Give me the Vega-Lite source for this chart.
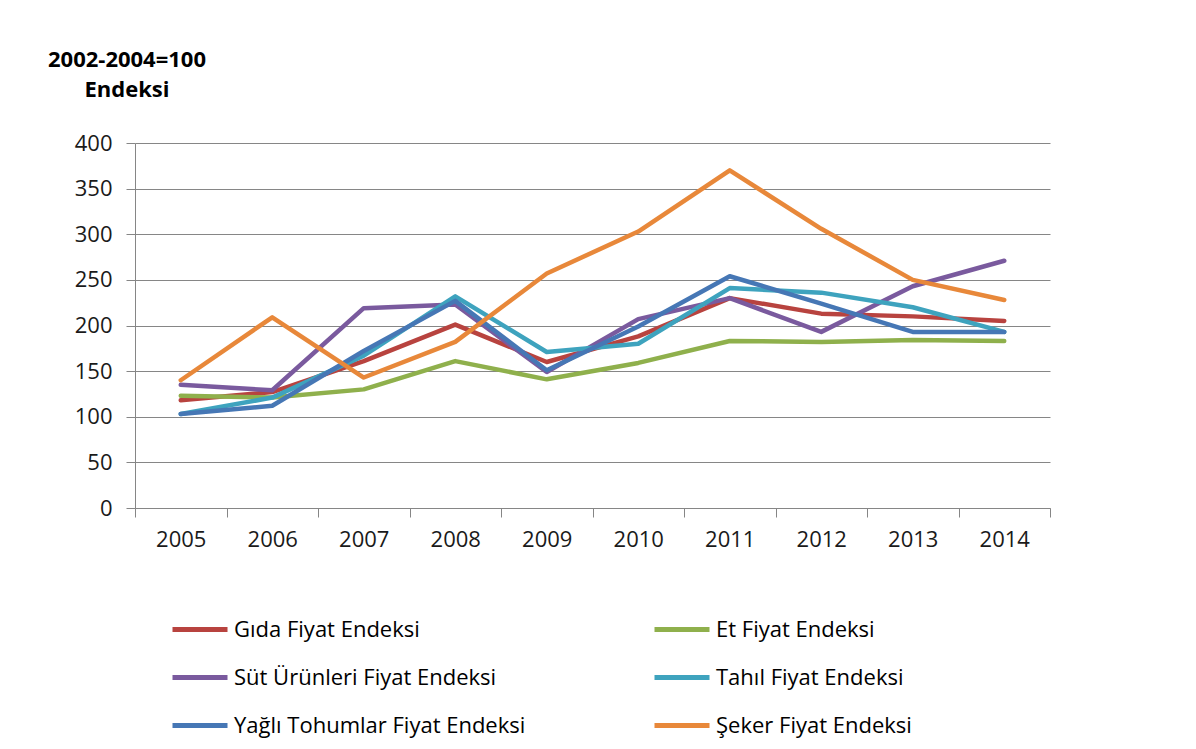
{
  "$schema": "https://vega.github.io/schema/vega-lite/v6.json",
  "width": 915,
  "height": 365,
  "autosize": {"type": "none"},
  "padding": {"left": 135, "top": 143, "right": 146, "bottom": 241},
  "background": "white",
  "title": {
    "text": ["2002-2004=100", "Endeksi"],
    "anchor": "start",
    "align": "center",
    "frame": "group",
    "dx": -8,
    "offset": 13,
    "baseline": "alphabetic",
    "lineHeight": 30,
    "font": "Open Sans",
    "fontSize": 22,
    "fontWeight": "bold",
    "color": "#000000"
  },
  "data": {
    "values": [
      {"year": "2005", "series": "Gıda Fiyat Endeksi", "value": 118},
      {"year": "2006", "series": "Gıda Fiyat Endeksi", "value": 127},
      {"year": "2007", "series": "Gıda Fiyat Endeksi", "value": 161},
      {"year": "2008", "series": "Gıda Fiyat Endeksi", "value": 201},
      {"year": "2009", "series": "Gıda Fiyat Endeksi", "value": 160},
      {"year": "2010", "series": "Gıda Fiyat Endeksi", "value": 188},
      {"year": "2011", "series": "Gıda Fiyat Endeksi", "value": 230},
      {"year": "2012", "series": "Gıda Fiyat Endeksi", "value": 213},
      {"year": "2013", "series": "Gıda Fiyat Endeksi", "value": 210},
      {"year": "2014", "series": "Gıda Fiyat Endeksi", "value": 205},
      {"year": "2005", "series": "Et Fiyat Endeksi", "value": 123},
      {"year": "2006", "series": "Et Fiyat Endeksi", "value": 121},
      {"year": "2007", "series": "Et Fiyat Endeksi", "value": 130},
      {"year": "2008", "series": "Et Fiyat Endeksi", "value": 161},
      {"year": "2009", "series": "Et Fiyat Endeksi", "value": 141},
      {"year": "2010", "series": "Et Fiyat Endeksi", "value": 159},
      {"year": "2011", "series": "Et Fiyat Endeksi", "value": 183},
      {"year": "2012", "series": "Et Fiyat Endeksi", "value": 182},
      {"year": "2013", "series": "Et Fiyat Endeksi", "value": 184},
      {"year": "2014", "series": "Et Fiyat Endeksi", "value": 183},
      {"year": "2005", "series": "Süt Ürünleri Fiyat Endeksi", "value": 135},
      {"year": "2006", "series": "Süt Ürünleri Fiyat Endeksi", "value": 129},
      {"year": "2007", "series": "Süt Ürünleri Fiyat Endeksi", "value": 219},
      {"year": "2008", "series": "Süt Ürünleri Fiyat Endeksi", "value": 223},
      {"year": "2009", "series": "Süt Ürünleri Fiyat Endeksi", "value": 149},
      {"year": "2010", "series": "Süt Ürünleri Fiyat Endeksi", "value": 207},
      {"year": "2011", "series": "Süt Ürünleri Fiyat Endeksi", "value": 230},
      {"year": "2012", "series": "Süt Ürünleri Fiyat Endeksi", "value": 193},
      {"year": "2013", "series": "Süt Ürünleri Fiyat Endeksi", "value": 243},
      {"year": "2014", "series": "Süt Ürünleri Fiyat Endeksi", "value": 271},
      {"year": "2005", "series": "Tahıl Fiyat Endeksi", "value": 103},
      {"year": "2006", "series": "Tahıl Fiyat Endeksi", "value": 121},
      {"year": "2007", "series": "Tahıl Fiyat Endeksi", "value": 167},
      {"year": "2008", "series": "Tahıl Fiyat Endeksi", "value": 232},
      {"year": "2009", "series": "Tahıl Fiyat Endeksi", "value": 171},
      {"year": "2010", "series": "Tahıl Fiyat Endeksi", "value": 180},
      {"year": "2011", "series": "Tahıl Fiyat Endeksi", "value": 241},
      {"year": "2012", "series": "Tahıl Fiyat Endeksi", "value": 236},
      {"year": "2013", "series": "Tahıl Fiyat Endeksi", "value": 220},
      {"year": "2014", "series": "Tahıl Fiyat Endeksi", "value": 193},
      {"year": "2005", "series": "Yağlı Tohumlar Fiyat Endeksi", "value": 103},
      {"year": "2006", "series": "Yağlı Tohumlar Fiyat Endeksi", "value": 112},
      {"year": "2007", "series": "Yağlı Tohumlar Fiyat Endeksi", "value": 172},
      {"year": "2008", "series": "Yağlı Tohumlar Fiyat Endeksi", "value": 227},
      {"year": "2009", "series": "Yağlı Tohumlar Fiyat Endeksi", "value": 151},
      {"year": "2010", "series": "Yağlı Tohumlar Fiyat Endeksi", "value": 199},
      {"year": "2011", "series": "Yağlı Tohumlar Fiyat Endeksi", "value": 254},
      {"year": "2012", "series": "Yağlı Tohumlar Fiyat Endeksi", "value": 224},
      {"year": "2013", "series": "Yağlı Tohumlar Fiyat Endeksi", "value": 193},
      {"year": "2014", "series": "Yağlı Tohumlar Fiyat Endeksi", "value": 193},
      {"year": "2005", "series": "Şeker Fiyat  Endeksi", "value": 140},
      {"year": "2006", "series": "Şeker Fiyat  Endeksi", "value": 209},
      {"year": "2007", "series": "Şeker Fiyat  Endeksi", "value": 143},
      {"year": "2008", "series": "Şeker Fiyat  Endeksi", "value": 182},
      {"year": "2009", "series": "Şeker Fiyat  Endeksi", "value": 257},
      {"year": "2010", "series": "Şeker Fiyat  Endeksi", "value": 303},
      {"year": "2011", "series": "Şeker Fiyat  Endeksi", "value": 370},
      {"year": "2012", "series": "Şeker Fiyat  Endeksi", "value": 306},
      {"year": "2013", "series": "Şeker Fiyat  Endeksi", "value": 250},
      {"year": "2014", "series": "Şeker Fiyat  Endeksi", "value": 228}
    ]
  },
  "mark": {"type": "line", "strokeWidth": 4.5, "strokeJoin": "round", "strokeCap": "round"},
  "encoding": {
    "x": {
      "field": "year",
      "type": "ordinal",
      "bandPosition": 0.5,
      "scale": {"type": "band", "paddingInner": 0, "paddingOuter": 0},
      "axis": {
        "title": null,
        "tickBand": "extent",
        "labelAngle": 0,
        "grid": false,
        "domainColor": "#868686",
        "tickColor": "#868686",
        "tickSize": 9,
        "labelPadding": 12,
        "labelFont": "Open Sans",
        "labelFontSize": 22,
        "labelColor": "#1a1a1a"
      }
    },
    "y": {
      "field": "value",
      "type": "quantitative",
      "scale": {"domain": [0, 400], "nice": false, "zero": true},
      "axis": {
        "title": null,
        "values": [0, 50, 100, 150, 200, 250, 300, 350, 400],
        "grid": true,
        "gridColor": "#868686",
        "gridWidth": 1,
        "domainColor": "#868686",
        "tickColor": "#868686",
        "tickSize": 9,
        "labelPadding": 14,
        "labelFont": "Open Sans",
        "labelFontSize": 22,
        "labelColor": "#1a1a1a"
      }
    },
    "color": {
      "field": "series",
      "type": "nominal",
      "scale": {
        "domain": ["Gıda Fiyat Endeksi", "Et Fiyat Endeksi", "Süt Ürünleri Fiyat Endeksi", "Tahıl Fiyat Endeksi", "Yağlı Tohumlar Fiyat Endeksi", "Şeker Fiyat  Endeksi"],
        "range": ["#B8433F", "#8FB04C", "#7A5A9E", "#3EA3BE", "#4677B5", "#E8883A"]
      },
      "legend": {
        "title": null,
        "orient": "none",
        "direction": "horizontal",
        "legendX": 35,
        "legendY": 456.5,
        "columns": 2,
        "symbolType": "stroke",
        "symbolSize": 3025,
        "symbolStrokeWidth": 5,
        "labelFont": "Open Sans",
        "labelFontSize": 22,
        "labelColor": "#000000",
        "labelOffset": 4,
        "labelLimit": 0,
        "rowPadding": 7,
        "columnPadding": 118
      }
    }
  },
  "config": {"view": {"stroke": null}}
}
